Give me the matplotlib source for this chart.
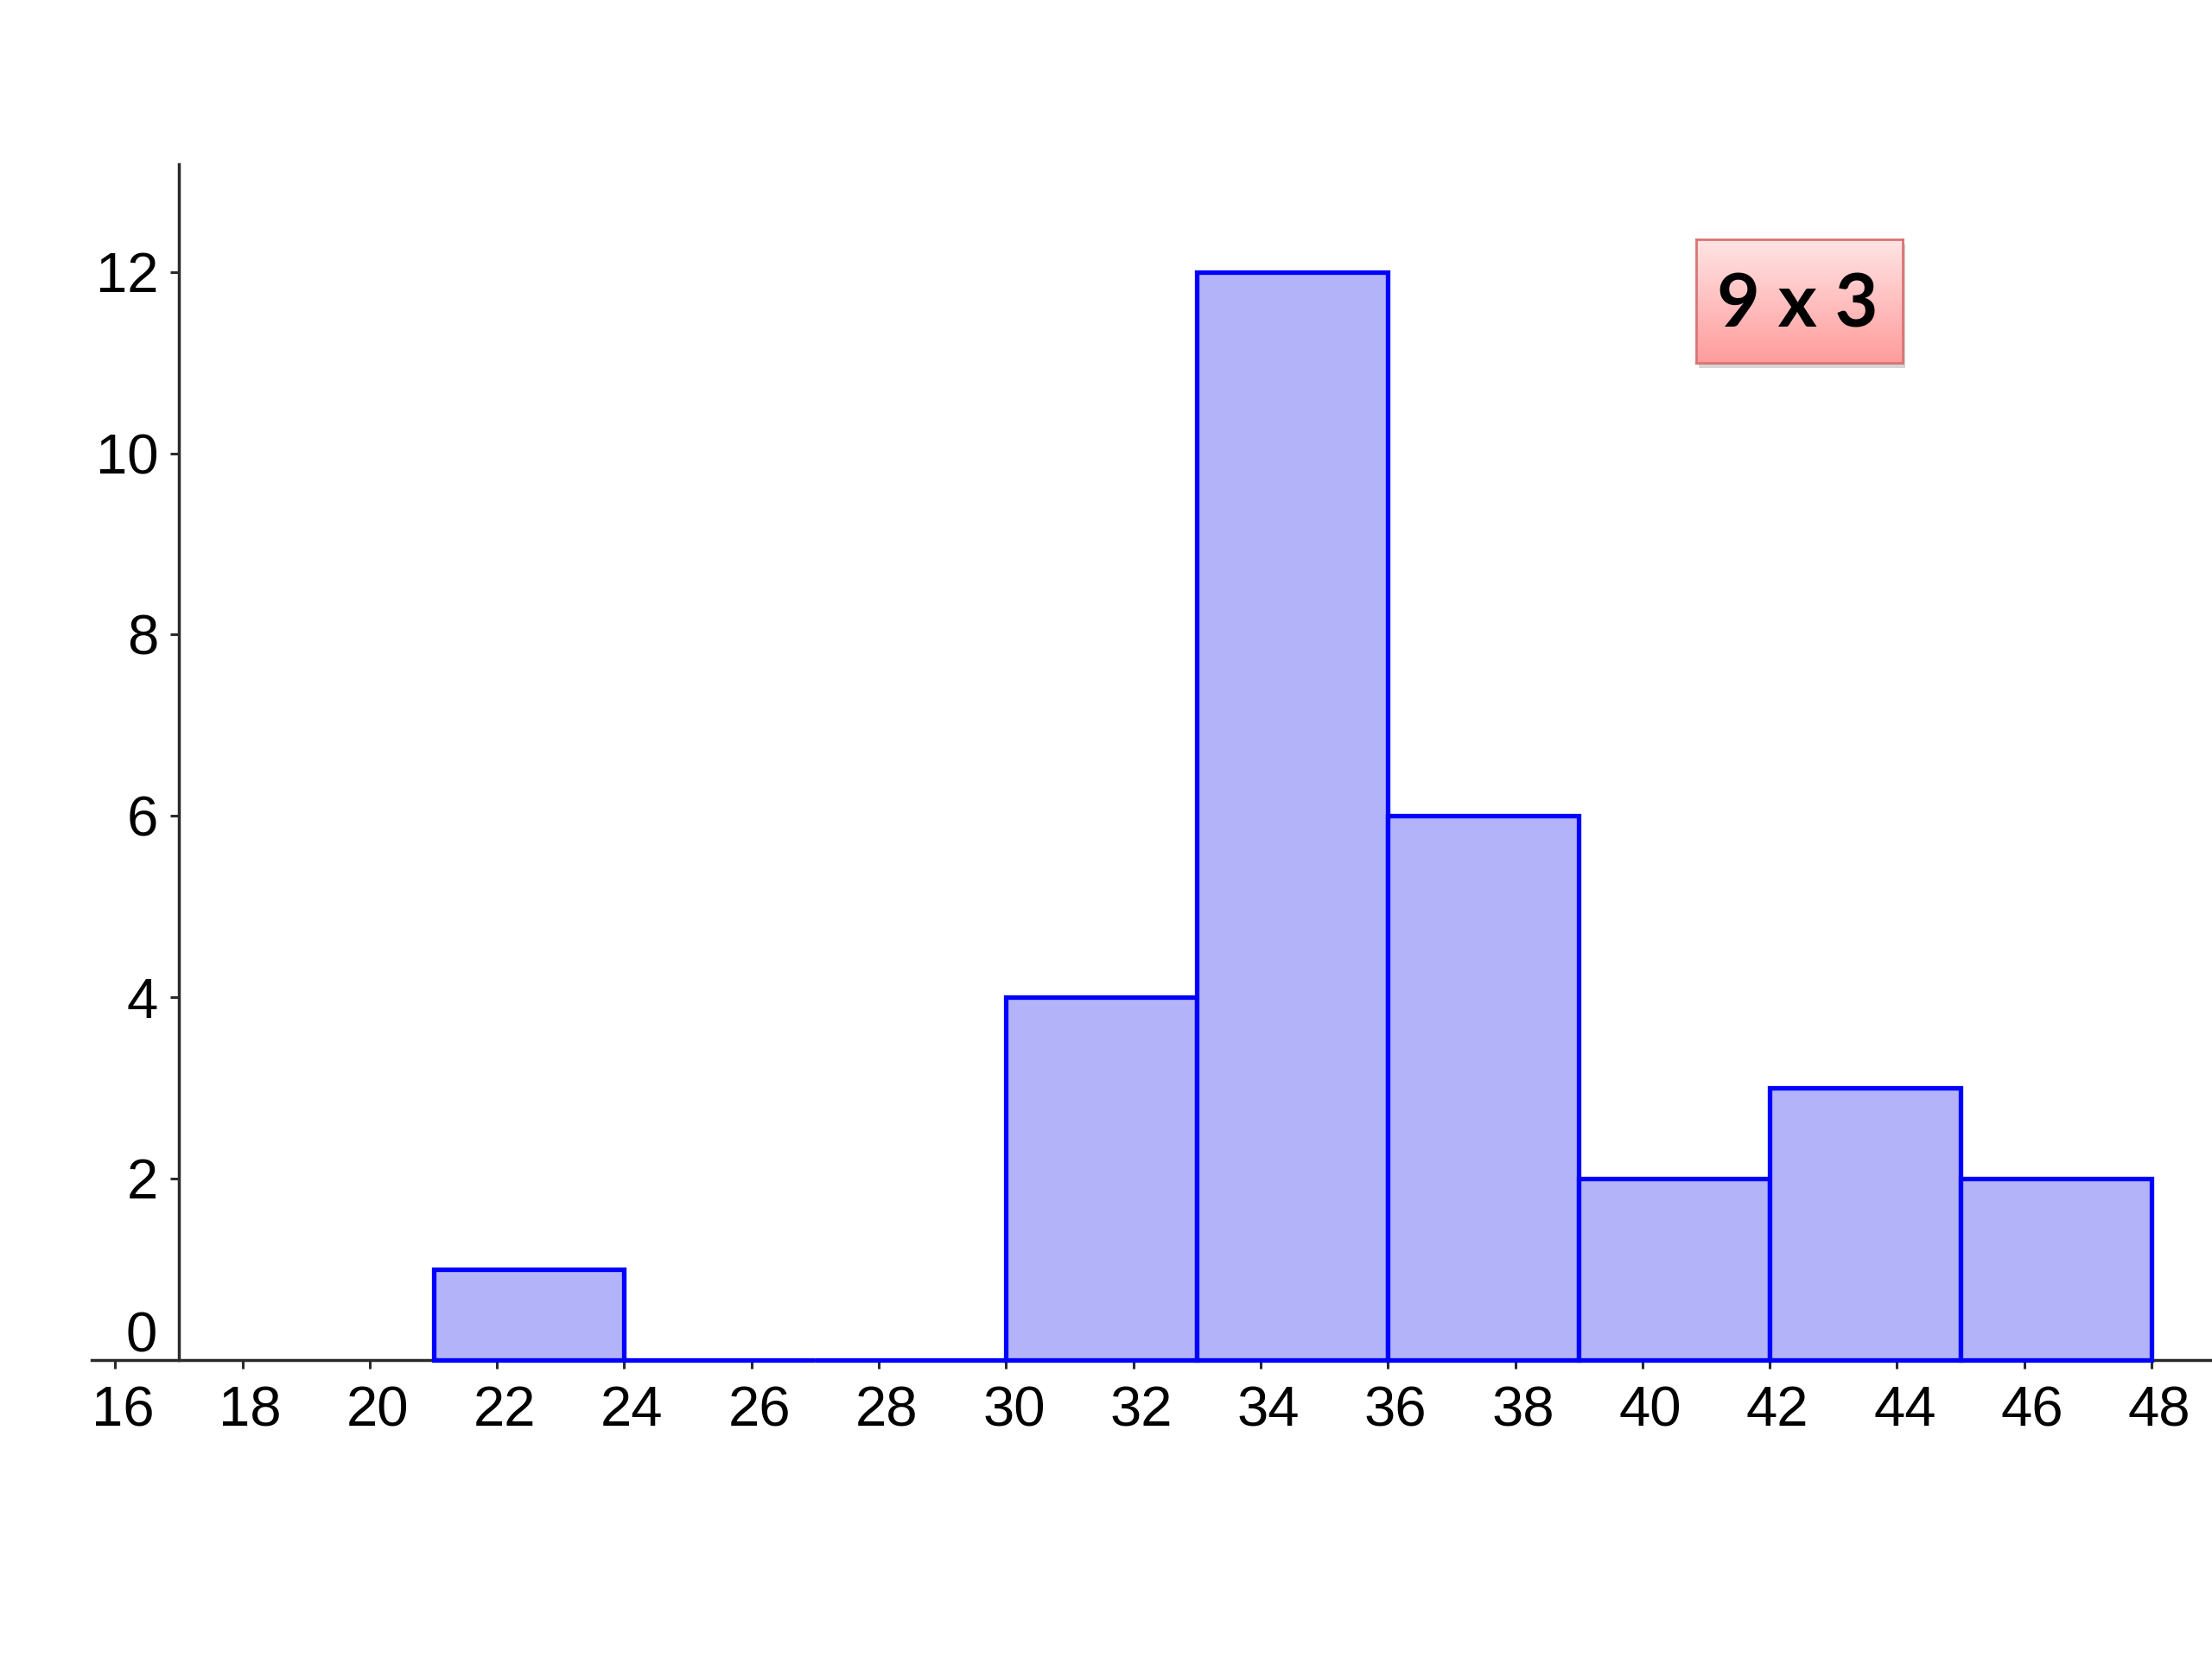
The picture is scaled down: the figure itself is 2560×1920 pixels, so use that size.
import numpy as np
import matplotlib
matplotlib.use("Agg")
import matplotlib.pyplot as plt
import matplotlib.transforms as mtransforms
from matplotlib.patches import Rectangle

# histogram data: 9 bins of width 3
bin_edges = [21, 24, 27, 30, 33, 36, 39, 42, 45, 48]
counts = [1, 0, 0, 4, 12, 6, 2, 3, 2]
x_ticks = list(range(16, 49, 2))
y_ticks = [2, 4, 6, 8, 10, 12]
box_label = "9 x 3"

plt.rcParams["font.family"] = ["Liberation Sans", "DejaVu Sans"]

fig = plt.figure(figsize=(25.6, 19.2), dpi=100)
ax = fig.add_axes([0, 0, 1, 1])
ax.set_xlim(14.19, 48.95)
ax.set_ylim(-3.30, 15.0)

# bars
widths = np.diff(bin_edges)
ax.bar(bin_edges[:-1], counts, width=widths, align="edge",
       color="#B3B3FA", edgecolor="#0000FF", linewidth=3.8, zorder=3,
       joinstyle="miter")

# axes crossing at x=17, y=0 (GeoGebra style)
for side in ["top", "right"]:
    ax.spines[side].set_visible(False)
ax.spines["left"].set_position(("data", 17))
ax.spines["bottom"].set_position(("data", 0))
ax.spines["left"].set_bounds(0, 13.19)
ax.spines["bottom"].set_bounds(15.63, 48.95)
for side in ["left", "bottom"]:
    ax.spines[side].set_linewidth(2.5)
    ax.spines[side].set_color("#2a2a2a")
    ax.spines[side].set_zorder(2)

ax.set_xticks(x_ticks)
ax.set_xticklabels([str(v) for v in x_ticks])
ax.set_yticks(y_ticks)
ax.set_yticklabels([str(v) for v in y_ticks])
ax.tick_params(axis="both", direction="out", length=7.2, width=2.2,
               color="#2a2a2a", labelsize=47, labelcolor="black")
ax.tick_params(axis="x", pad=14)
ax.tick_params(axis="y", pad=10)

shift = mtransforms.ScaledTranslation(9 / 100, 0, fig.dpi_scale_trans)
for lab in ax.get_xticklabels():
    lab.set_transform(lab.get_transform() + shift)

# the "0" label sits in the corner above the x axis
zero_off = mtransforms.offset_copy(ax.transData, fig=fig, x=-18, y=-3, units="points")
ax.text(17, 0, "0", fontsize=47, ha="right", va="bottom", transform=zero_off)

ax.set_facecolor("white")

# pink box with gradient
bx, by, bw, bh = 1963 / 2560, 1 - 420 / 1920, (2202 - 1963) / 2560, (420 - 277) / 1920
shadow = Rectangle((bx + 3 / 2560, by - 6 / 1920), bw, bh, transform=fig.transFigure,
                   facecolor="#bbbbbb", edgecolor="none", alpha=0.6, zorder=4)
fig.patches.append(shadow)
bax = fig.add_axes([bx, by, bw, bh], zorder=5)
top_c = np.array([255, 228, 228]) / 255
bot_c = np.array([255, 156, 156]) / 255
t = np.linspace(0, 1, 256)[:, None]
grad = (top_c[None, :] * (1 - t) + bot_c[None, :] * t)[:, None, :]
bax.imshow(grad, aspect="auto", extent=[0, 1, 0, 1], origin="upper")
bax.set_xlim(0, 1)
bax.set_ylim(0, 1)
bax.set_xticks([])
bax.set_yticks([])
for s in bax.spines.values():
    s.set_color("#D97474")
    s.set_linewidth(2)
bax.text(0.49, 0.46, box_label, fontsize=62, fontweight="bold",
         family=["Lato", "DejaVu Sans"], ha="center", va="center", color="black")

fig.savefig("out.png", dpi=100, facecolor="white")
